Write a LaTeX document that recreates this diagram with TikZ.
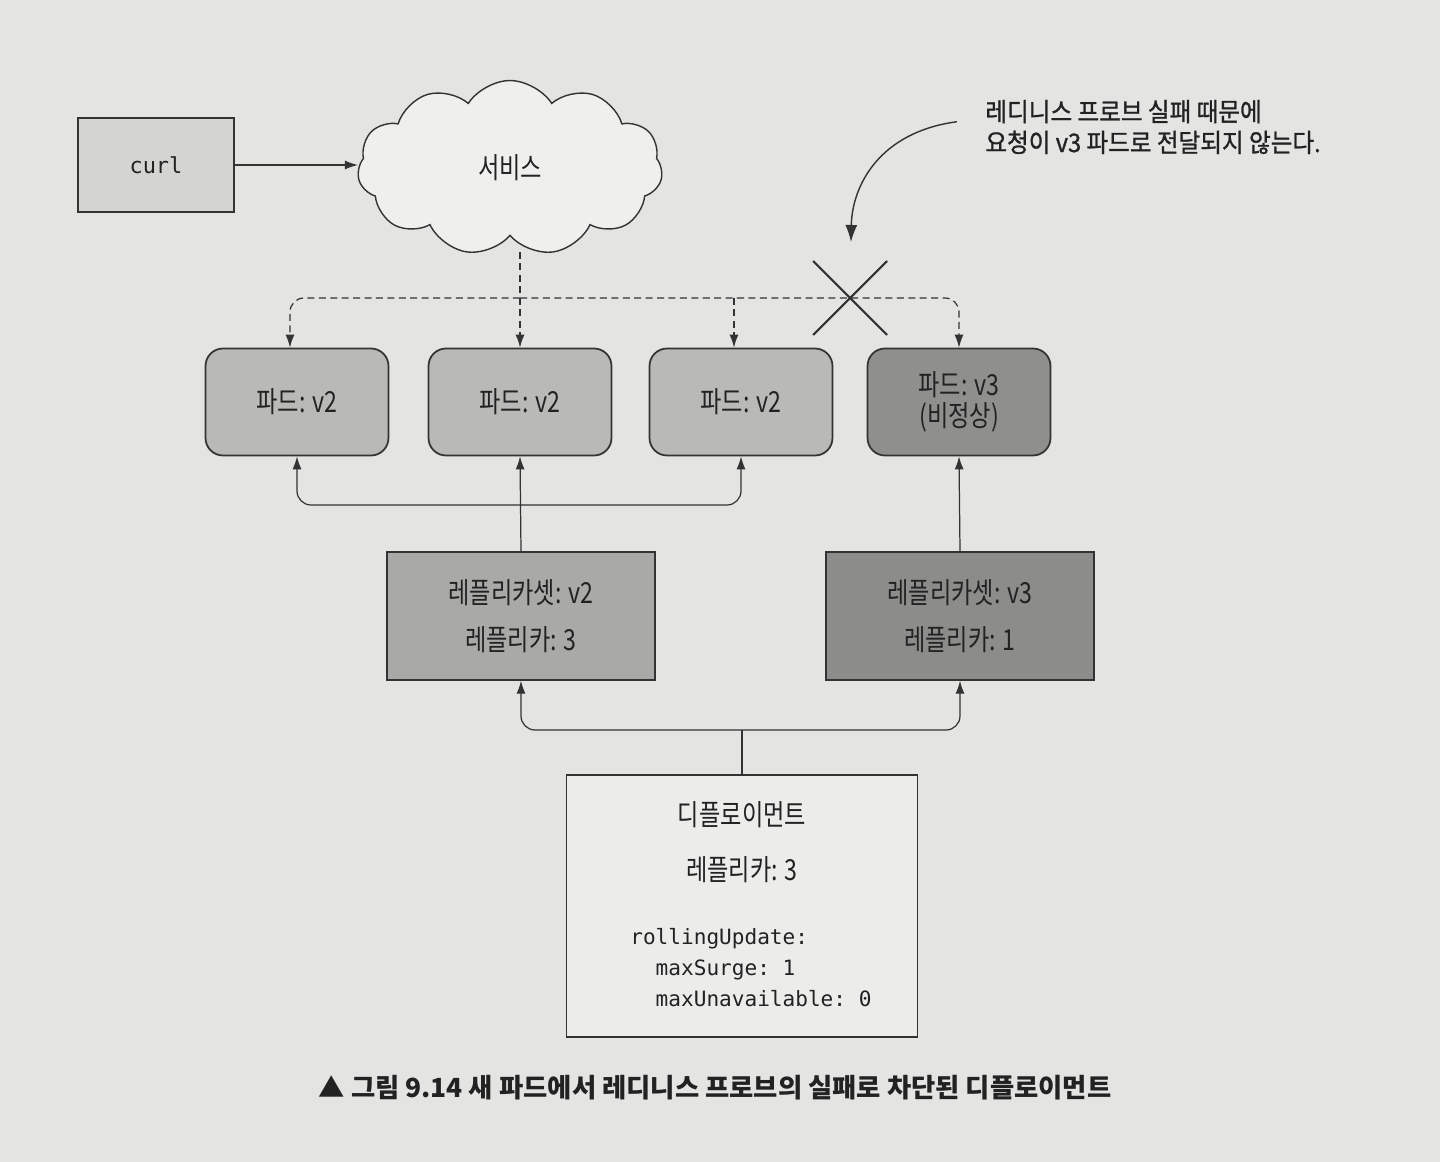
\documentclass[tikz,border=0pt]{standalone}
\usepackage{fontspec}
\usepackage{tikz}
\usetikzlibrary{arrows.meta, positioning, shapes.symbols, calc}

\newfontfamily\korfont[FakeStretch=0.8]{Noto Sans CJK KR}
\newfontfamily\notefont[FakeStretch=0.92,FakeBold=1]{Noto Sans CJK KR}
\newfontfamily\capfont{Noto Sans CJK KR}
\setmonofont{DejaVu Sans Mono}

\definecolor{pagebg}{HTML}{E4E4E2}
\definecolor{ink}{HTML}{222222}
\definecolor{inkline}{HTML}{333333}
\definecolor{curlgray}{HTML}{D4D4D2}
\definecolor{podgray}{HTML}{B9B9B7}
\definecolor{badgray}{HTML}{8F8F8D}
\definecolor{rsgray}{HTML}{A9A9A7}
\definecolor{rsdark}{HTML}{8C8C8A}

\tikzset{
    box/.style={draw=inkline, line width=0.8pt, inner sep=0pt, text=ink, align=center,
        font=\korfont\fontsize{16.5}{17}\selectfont},
    podbox/.style={box, rounded corners=0.35cm, line width=1pt, fill=podgray,
        minimum width=3.66cm, minimum height=2.14cm},
    rsbox/.style={box, fill=rsgray, minimum width=5.36cm, minimum height=2.56cm,
        font=\korfont\fontsize{16.5}{27}\selectfont},
    flow/.style={draw=inkline, line width=0.7pt, -{Latex[length=2.6mm,width=1.8mm]}},
    dashflow/.style={flow, dashed, dash pattern=on 4pt off 2.5pt},
    codetext/.style={inner sep=0pt, text=ink, align=left, font=\ttfamily\fontsize{12}{17.6}\selectfont},
}

\begin{document}
\begin{tikzpicture}[x=0.02cm, y=-0.02cm]
        % page
        \fill[pagebg] (0,0) rectangle (1440,1162);
        \useasboundingbox (0,0) rectangle (1440,1162);

        % client and service
        \node[box, fill=curlgray, minimum width=3.12cm, minimum height=1.88cm,
            font=\ttfamily\fontsize{12.5}{14}\selectfont] (curl) at (156,165) {curl};
        \node[box, cloud, cloud puffs=11, cloud puff arc=115, aspect=1.8, fill=pagebg!60!white,
            minimum width=6.1cm, minimum height=3.5cm] (svc) at (510,168) {서비스};
        \draw[flow] (curl.east) -- (curl.east -| svc.west);

        % pods
        \node[podbox] (pod1) at (297,402) {파드: v2};
        \node[podbox] (pod2) at (520,402) {파드: v2};
        \node[podbox] (pod3) at (741,402) {파드: v2};
        \node[podbox, fill=badgray] (pod4) at (959,402) {파드: v3\\[1pt](비정상)};

        % replica sets and deployment
        \node[rsbox] (rs2) at (521,616) {레플리카셋: v2\\레플리카: 3};
        \node[rsbox, fill=rsdark] (rs3) at (960,616) {레플리카셋: v3\\레플리카: 1};
        \node[box, fill=pagebg!70!white, minimum width=7.02cm, minimum height=5.24cm] (deploy) at (742,906) {};
        \node[box, draw=none, below=0.52cm of deploy.north] (dtitle) {디플로이먼트};
        \node[box, draw=none, below=0.55cm of dtitle] (dreplicas) {레플리카: 3};
        \node[codetext, anchor=north west] (dspec) at (630,928)
            {rollingUpdate:\\\phantom{ro}maxSurge: 1\\\phantom{ro}maxUnavailable: 0};

        % service traffic
        \coordinate (svcout) at (520,252);
        \coordinate (bus) at (520,298);
        \draw[dashflow] (svcout) -- (pod2.north);
        \draw[dashflow, rounded corners=8pt] (bus) -| ([xshift=-4pt]pod1.north);
        \draw[dashflow, rounded corners=8pt] (bus) -| (pod4.north);
        \draw[dashflow] ([xshift=-4pt]pod3.north |- bus) -- ([xshift=-4pt]pod3.north);

        % blocked path
        \coordinate (block) at (850,298);
        \draw[inkline, line width=1.2pt] (block) +(-37,-37) -- +(37,37);
        \draw[inkline, line width=1.2pt] (block) +(37,-37) -- +(-37,37);

        % ownership
        \coordinate (rsbus) at (521,505);
        \draw[flow] (rs2.north) -- (pod2.south);
        \draw[flow, rounded corners=8pt] (rsbus) -| (pod1.south);
        \draw[flow, rounded corners=8pt] (rsbus) -| (pod3.south);
        \draw[flow] (rs3.north) -- (pod4.south);
        \coordinate (dbus) at (742,730);
        \draw[inkline, line width=0.7pt] (deploy.north) -- (dbus);
        \draw[flow, rounded corners=8pt] (dbus) -| (rs2.south);
        \draw[flow, rounded corners=8pt] (dbus) -| (rs3.south);

        % callout
        \node[anchor=west, inner sep=0pt, text=ink, align=left,
            font=\notefont\fontsize{14.6}{17.6}\selectfont] (note) at (985,127)
            {레디니스 프로브 실패 때문에\\요청이 v3 파드로 전달되지 않는다.};
        \coordinate (notetip) at (851,242);
        \draw[flow, line width=0.8pt, -{Latex[length=3.4mm,width=2.4mm]}] ([xshift=-16pt,yshift=3pt]note.west)
            .. controls (880,132) and (852,185) .. (notetip);

        % caption
        \node[inner sep=0pt, text=ink, font=\capfont\bfseries\fontsize{15}{17}\selectfont] (caption) at (715,1088)
            {▲ 그림 9.14 새 파드에서 레디니스 프로브의 실패로 차단된 디플로이먼트};
    \end{tikzpicture}
\end{document}
